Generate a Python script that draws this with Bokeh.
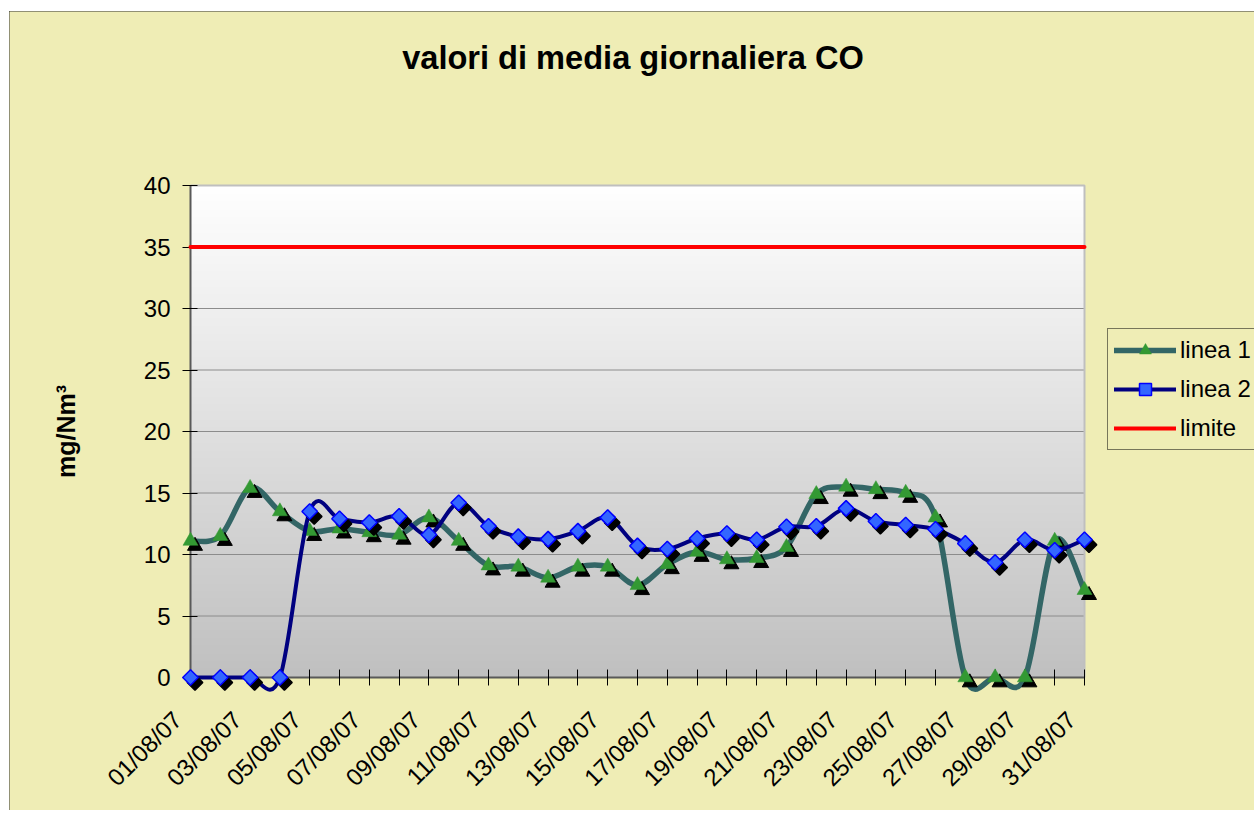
import math
import numpy as np
from bokeh.plotting import figure
from bokeh.models import (Range1d, FixedTicker, Legend, LegendItem, ColumnDataSource, Label,
                          LinearAxis)
from bokeh.transform import dodge
from bokeh.embed import file_html
from bokeh.resources import INLINE

# ---------------- data ----------------
dates = ["01/08/07", "02/08/07", "03/08/07", "04/08/07", "05/08/07", "06/08/07",
         "07/08/07", "08/08/07", "09/08/07", "10/08/07", "11/08/07", "12/08/07",
         "13/08/07", "14/08/07", "15/08/07", "16/08/07", "17/08/07", "18/08/07",
         "19/08/07", "20/08/07", "21/08/07", "22/08/07", "23/08/07", "24/08/07",
         "25/08/07", "26/08/07", "27/08/07", "28/08/07", "29/08/07", "30/08/07",
         "31/08/07"]
linea1 = [11.1, 11.5, 15.4, 13.5, 11.9, 12.1, 11.8, 11.6, 13.0, 11.1, 9.1, 9.0,
          8.1, 9.0, 9.0, 7.5, 9.2, 10.2, 9.6, 9.7, 10.6, 14.9, 15.5, 15.3, 15.0,
          13.0, 0.0, 0.0, 0.0, 11.1, 7.1]
linea2 = [0.0, 0.0, 0.0, 0.0, 13.5, 12.9, 12.6, 13.1, 11.6, 14.2, 12.3, 11.45,
          11.25, 11.9, 13.0, 10.7, 10.45, 11.3, 11.7, 11.2, 12.25, 12.3, 13.75,
          12.7, 12.4, 12.05, 10.9, 9.35, 11.2, 10.35, 11.2]
limite = [35] * 31
y_ticks = [0, 5, 10, 15, 20, 25, 30, 35, 40]
series_names = ["linea 1", "linea 2", "limite"]
title_text = "valori di media giornaliera  CO"
y_label = "mg/Nm\u00b3"

# ---------------- layout / styles ----------------
YEL = "#EFEDB5"
FONT = "Liberation Sans"
W, H = 1245, 799                  # canvas; the frame covers all of it
AREA_L, AREA_T = 181, 174         # plot-area left / top inside the canvas
AREA_W, AREA_H = 894, 492         # plot-area size in pixels
LABEL_SHIFT_PX = 13               # category labels sit a little left of their tick
x = list(range(len(dates)))
x_last = x[-1]
y_top = y_ticks[-1]
ppx = AREA_W / x_last             # pixels per day
ppy = AREA_H / y_top              # pixels per unit
x_start = -AREA_L / ppx
x_end = (W - AREA_L) / ppx
y_start = -(H - AREA_T - AREA_H) / ppy
y_end = (AREA_T + AREA_H) / ppy
shift = LABEL_SHIFT_PX / ppx


def smooth(xs, ys):
    """Catmull-Rom style cubic Bezier segments (Excel 'smoothed line')."""
    n = len(xs)
    d = dict(x0=[], y0=[], x1=[], y1=[], cx0=[], cy0=[], cx1=[], cy1=[])
    for i in range(n - 1):
        a = max(i - 1, 0)
        b = min(i + 2, n - 1)
        d["x0"].append(xs[i]); d["y0"].append(ys[i])
        d["x1"].append(xs[i + 1]); d["y1"].append(ys[i + 1])
        d["cx0"].append(xs[i] + (xs[i + 1] - xs[a]) / 6.0)
        d["cy0"].append(ys[i] + (ys[i + 1] - ys[a]) / 6.0)
        d["cx1"].append(xs[i + 1] - (xs[b] - xs[i]) / 6.0)
        d["cy1"].append(ys[i + 1] - (ys[b] - ys[i]) / 6.0)
    return d


p = figure(width=W, height=H,
           x_range=Range1d(x_start, x_end), y_range=Range1d(y_start, y_end),
           output_backend="svg", toolbar_location=None,
           min_border_left=0, min_border_right=0,
           min_border_top=0, min_border_bottom=0,
           background_fill_color=YEL, border_fill_color=YEL,
           outline_line_color=None)
p.extra_x_ranges = {"lbl": Range1d(x_start + shift, x_end + shift)}
p.styles = {"margin-left": "9px", "margin-top": "11px",
            "outline": "1px solid #333333", "outline-offset": "-1px"}
p.xgrid.visible = False
p.ygrid.visible = False

# plot-area gradient (white top -> grey bottom)
N = 400
col = np.linspace(192, 255, N).astype(np.uint8)
img = np.zeros((N, 1), dtype=np.uint32)
view = img.view(dtype=np.uint8).reshape((N, 1, 4))
view[:, 0, 0] = col
view[:, 0, 1] = col
view[:, 0, 2] = col
view[:, 0, 3] = 255
p.image_rgba(image=[img], x=0, y=0, dw=x_last, dh=y_top, level="image")

# gridlines and plot-area border (top / right)
gsrc = ColumnDataSource(dict(y=y_ticks[1:-1]))
p.segment(x0=0, x1=x_last, y0="y", y1="y", source=gsrc, line_color="#8C8C8C", line_width=1)
p.line([0, x_last, x_last], [y_top, y_top, 0], line_color="#BFBFBF", line_width=2)

LV = "overlay"   # draw series above the axes, like the original

# linea 1
s1 = ColumnDataSource(dict(x=x, y=linea1))
c1 = p.bezier(source=ColumnDataSource(smooth(x, linea1)), x0="x0", y0="y0", x1="x1", y1="y1",
              cx0="cx0", cy0="cy0", cx1="cx1", cy1="cy1", level=LV,
              line_color="#336666", line_width=5.5, line_cap="round", line_join="round")
p.scatter(x=dodge("x", 4.5 / ppx, range=p.x_range), y=dodge("y", -5.0 / ppy, range=p.y_range),
          source=s1, marker="triangle", size=15, fill_color="black", line_color="black",
          level=LV)
m1 = p.scatter(x="x", y="y", source=s1, marker="triangle", size=15, level=LV,
               fill_color="#339933", line_color="#339933", line_width=0.5)

# linea 2
s2 = ColumnDataSource(dict(x=x, y=linea2))
c2 = p.bezier(source=ColumnDataSource(smooth(x, linea2)), x0="x0", y0="y0", x1="x1", y1="y1",
              cx0="cx0", cy0="cy0", cx1="cx1", cy1="cy1", level=LV,
              line_color="#000080", line_width=4, line_cap="round", line_join="round")
p.scatter(x=dodge("x", 4.5 / ppx, range=p.x_range), y=dodge("y", -5.0 / ppy, range=p.y_range),
          source=s2, marker="square", angle=math.pi / 4, size=11, fill_color="black",
          line_color="black", line_width=1.5, level=LV)
m2 = p.scatter(x="x", y="y", source=s2, marker="square", angle=math.pi / 4, size=11,
               fill_color="#3366FF", line_color="#0000FF", line_width=1.5, level=LV)

# limite
r_lim = p.line(x, limite, line_color="#FF0000", line_width=4, line_cap="round", level=LV)

# x axis: line + tick marks at every day
xa = p.xaxis[0]
xa.fixed_location = 0
xa.ticker = FixedTicker(ticks=x[::2], minor_ticks=x[1::2])
xa.major_label_overrides = {i: "" for i in x[::2]}
xa.bounds = (0, x_last)
xa.axis_line_color = "#595959"
xa.axis_line_width = 2
xa.major_tick_in = 8
xa.major_tick_out = 8
xa.minor_tick_in = 8
xa.minor_tick_out = 8
xa.major_tick_line_color = "black"
xa.minor_tick_line_color = "black"

# x axis labels (every second date, rotated)
xl = LinearAxis(x_range_name="lbl", fixed_location=0,
                ticker=FixedTicker(ticks=x[::2]),
                major_label_overrides={i: dates[i] for i in x[::2]},
                major_label_orientation=math.pi / 4,
                bounds=(0, x_last),
                axis_line_color=None, major_tick_line_color=None, minor_tick_line_color=None,
                major_tick_in=0, major_tick_out=8, minor_tick_in=0, minor_tick_out=0,
                major_label_standoff=30,
                major_label_text_font=FONT, major_label_text_font_size="24px",
                major_label_text_color="black")
p.add_layout(xl, "below")

ya = p.yaxis[0]
ya.fixed_location = 0
ya.ticker = FixedTicker(ticks=y_ticks)
ya.bounds = (0, y_top)
ya.axis_line_color = "#595959"
ya.axis_line_width = 2
ya.major_tick_in = 7
ya.major_tick_out = 8
ya.minor_tick_line_color = None
ya.major_tick_line_color = "black"
ya.major_label_standoff = 12
ya.major_label_text_font = FONT
ya.major_label_text_font_size = "24px"
ya.major_label_text_color = "black"

# axis title (rotated) and chart title
p.add_layout(Label(x=56, y=y_top / 2, x_units="screen", text=y_label, angle=math.pi / 2,
                   text_align="center", text_baseline="middle",
                   text_font=FONT, text_font_style="bold",
                   text_font_size="25px", text_color="black"))
p.add_layout(Label(x=x_last / 2, y=H - 46, y_units="screen", text=title_text,
                   text_align="center", text_baseline="middle",
                   text_font=FONT, text_font_style="bold",
                   text_font_size="32.6px", text_color="black"))

# legend (right of the plot area)
legend = Legend(items=[LegendItem(label=series_names[0], renderers=[c1, m1]),
                       LegendItem(label=series_names[1], renderers=[c2, m2]),
                       LegendItem(label=series_names[2], renderers=[r_lim])],
                location=(1098, 360), orientation="vertical",
                border_line_color="black", border_line_width=1.5,
                background_fill_color=YEL, background_fill_alpha=1.0,
                label_text_font=FONT, label_text_font_size="24px",
                label_text_color="black",
                glyph_width=62, glyph_height=30, label_height=30,
                padding=6, spacing=9, label_standoff=4, margin=0)
p.add_layout(legend)

open("out.html", "w").write(file_html(p, INLINE))
